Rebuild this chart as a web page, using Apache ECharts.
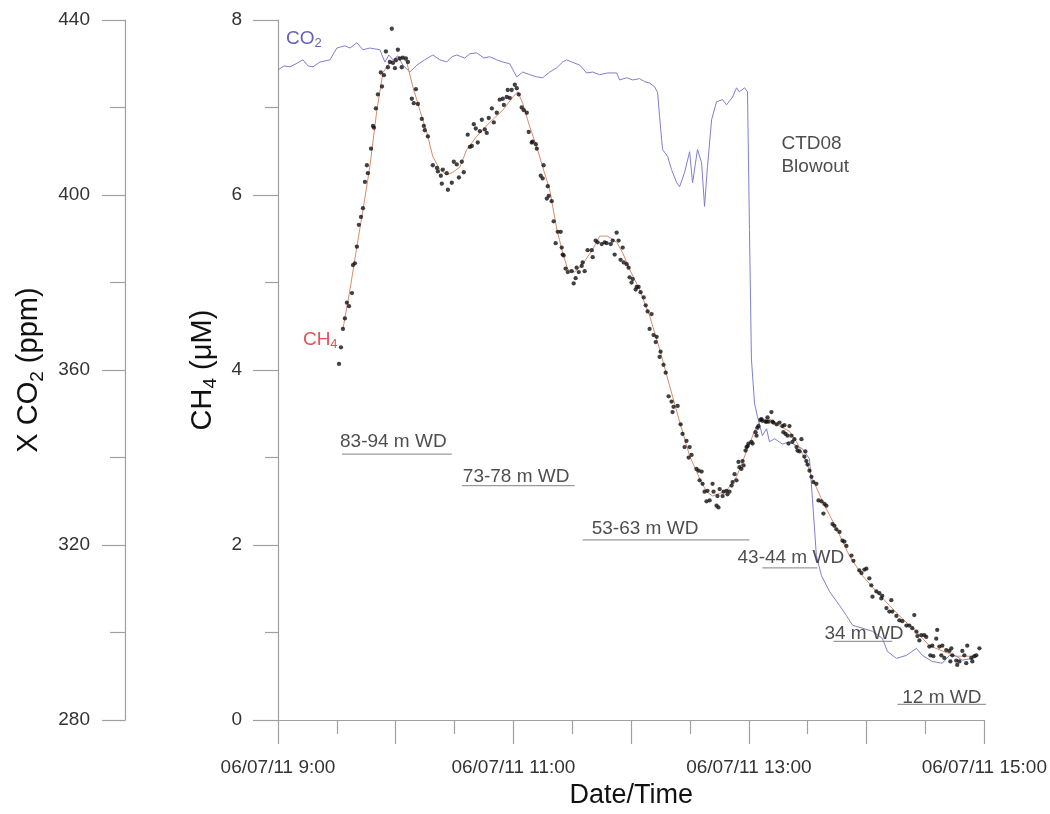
<!DOCTYPE html>
<html>
<head>
<meta charset="utf-8">
<script src="https://cdn.jsdelivr.net/npm/echarts@6/dist/echarts.min.js"></script>
<style>html,body{margin:0;padding:0;background:#fff;}#c{width:1050px;height:814px;}</style>
</head>
<body>
<div id="c"></div>
<script>
// time in minutes after 06/07/11 09:00
const co2Time = [0,3.1,6.1,9.2,12.7,15.3,17.8,21.4,26.5,30.0,
34.1,36.7,40.2,43.3,46.8,51.9,54.5,56.5,58.6,61.1,
63.6,67.2,70.8,74.8,78.9,82.5,86.0,88.6,91.1,95.2,
97.8,101.3,104.9,107.9,111.5,114.6,118.1,121.7,124.7,128.3,
131.9,134.9,138.5,142.1,145.1,147.1,149.7,153.8,157.3,160.4,
163.9,168.0,172.6,174.1,177.7,180.8,184.3,186.9,189.4,192.0,
193.5,194.5,196.0,198.6,200.6,203.2,204.7,207.2,209.8,211.3,
213.8,215.9,217.4,218.9,221.0,223.5,226.6,228.6,231.7,233.7,
235.2,237.8,239.3,240.3,241.3,242.9,244.4,246.9,249.0,250.5,
253.1,257.1,260.7,264.3,267.3,270.9,272.4,274.4,277.0,281.1,
286.2,289.7,292.8,297.9,303.0,308.0,310.6,315.2,320.3,325.4,
328.4,333.5,338.6,342.2,345.7,348.8,353.9,356.4];
const co2Value = [428.6,429.5,429.3,430.0,430.9,429.5,429.3,430.4,430.9,433.6,
434.1,433.6,434.8,433.2,433.6,433.2,430.4,432.0,430.9,431.8,
429.7,428.1,429.7,430.9,432.0,430.9,430.4,431.6,432.0,431.3,
432.3,432.5,431.3,431.6,430.9,430.4,430.0,427.0,428.1,427.5,
427.0,426.8,428.1,429.1,430.4,430.9,430.4,429.7,427.9,428.1,
427.5,427.9,427.9,426.3,426.8,426.3,426.6,425.9,425.6,424.7,
423.4,417.9,410.4,408.8,405.8,402.8,401.9,405.1,409.9,402.8,
410.4,407.4,397.4,406.5,417.2,421.3,421.8,420.6,422.4,424.5,
423.6,424.5,423.6,392.1,362.5,352.3,349.3,345.0,346.6,343.6,
344.3,343.1,343.6,342.7,342.0,339.7,330.6,317.6,313.0,309.4,
306.2,303.9,301.7,301.0,300.3,298.7,295.7,294.1,294.8,296.4,
294.8,293.4,293.0,294.8,294.6,293.7,294.1,294.6];

const ch4LineTime = [33.1,36.7,40.2,43.3,46.8,50.4,53.5,57.0,60.6,63.6,
65.7,68.7,72.3,75.9,78.9,82.5,86.0,89.1,92.7,96.2,
101.3,107.9,114.6,119.7,122.2,124.7,128.3,131.9,134.9,138.5,
142.1,145.1,147.7,151.2,155.3,160.4,163.9,168.0,172.6,175.7,
179.2,184.3,189.4,194.5,199.6,204.7,209.8,214.9,218.4,221.5,
225.1,228.6,233.7,238.8,243.9,246.9,250.5,255.6,260.7,264.3,
269.3,272.4,277.5,284.6,291.2,297.9,305.0,311.6,318.2,325.4,
332.0,338.6,345.7,352.3,356.4];
const ch4LineValue = [4.47,4.92,5.41,5.83,6.32,6.97,7.40,7.51,7.57,7.57,
7.51,7.24,6.97,6.71,6.44,6.29,6.23,6.26,6.32,6.52,
6.67,6.83,6.97,7.12,7.18,7.05,6.78,6.55,6.32,6.06,
5.61,5.34,5.15,5.12,5.21,5.38,5.53,5.53,5.46,5.34,
5.15,4.92,4.62,4.24,3.82,3.41,3.02,2.76,2.61,2.56,
2.59,2.62,2.78,3.07,3.36,3.44,3.44,3.36,3.30,3.18,
2.95,2.76,2.50,2.19,1.88,1.65,1.47,1.31,1.16,1.01,
0.85,0.79,0.73,0.73,0.74];

// individual CH4 measurements [minutes after 09:00, µM]
const ch4Samples = [
[31.1,4.07],[32.1,4.26],[33.1,4.47],[34.1,4.59],[35.1,4.77],[36.2,4.73],[37.7,4.88],[38.2,5.20],[39.2,5.22],[40.2,5.41],
[41.2,5.66],[42.3,5.75],[43.3,5.85],[44.3,6.15],[45.3,6.34],[45.8,6.25],[47.4,6.53],[48.4,6.79],[48.9,6.77],[49.9,6.99],
[50.9,7.15],[52.4,7.40],[53.0,7.24],[54.0,7.37],[55.0,7.64],[56.0,7.46],[57.0,7.52],[58.0,7.90],[58.6,7.51],[59.6,7.45],
[60.1,7.54],[61.1,7.66],[62.1,7.56],[63.1,7.46],[63.6,7.57],[65.2,7.56],[66.2,7.52],[68.2,7.10],[69.2,7.05],[70.3,7.21],
[71.3,7.04],[73.3,6.87],[74.3,6.79],[74.8,6.74],[76.4,6.67],[78.9,6.34],[81.0,6.31],[81.5,6.27],[83.0,6.22],[83.5,6.13],
[84.0,6.29],[86.0,6.25],[86.6,6.06],[88.6,6.14],[89.6,6.38],[91.1,6.35],[92.2,6.20],[93.7,6.38],[94.7,6.26],[96.7,6.69],
[97.8,6.55],[98.8,6.56],[99.8,6.81],[100.8,6.76],[101.8,6.60],[102.9,6.73],[103.9,6.86],[105.4,6.75],[106.4,6.71],[107.4,6.88],
[109.0,6.99],[110.0,6.83],[111.5,6.94],[113.0,7.09],[114.6,7.10],[115.1,7.03],[116.6,7.12],[117.1,7.20],[118.1,7.11],[119.1,7.20],
[120.7,7.26],[121.7,7.22],[122.7,7.15],[124.2,7.00],[125.3,6.97],[126.8,6.94],[127.8,6.72],[129.3,6.60],[129.8,6.61],[131.4,6.58],
[131.9,6.53],[133.9,6.22],[134.9,6.19],[135.4,6.34],[137.0,5.96],[137.5,6.10],[138.0,5.99],[139.5,5.93],[140.5,5.70],[141.5,5.45],
[142.6,5.58],[144.1,5.58],[144.6,5.40],[145.1,5.32],[145.6,5.31],[146.6,5.16],[147.7,5.12],[149.7,5.13],[150.7,4.99],[151.7,5.05],
[152.2,5.17],[153.3,5.12],[154.8,5.19],[155.3,5.23],[156.3,5.13],[157.8,5.37],[159.9,5.37],[160.4,5.29],[161.9,5.48],[162.9,5.46],
[165.0,5.44],[166.5,5.46],[167.5,5.45],[169.6,5.44],[170.6,5.48],[171.6,5.32],[172.6,5.57],[173.6,5.48],[174.6,5.26],[175.7,5.40],
[176.2,5.23],[177.7,5.21],[178.7,5.17],[179.2,5.06],[180.2,5.00],[180.8,5.04],[182.3,4.92],[182.8,4.95],[183.8,4.95],[184.8,4.89],
[186.4,4.83],[187.4,4.74],[188.4,4.67],[189.4,4.47],[190.4,4.64],[191.4,4.40],[192.5,4.32],[193.0,4.38],[194.5,4.15],[195.0,4.21],
[196.5,4.06],[197.6,3.97],[199.1,3.70],[200.6,3.64],[201.1,3.52],[201.6,3.58],[203.7,3.59],[205.2,3.38],[206.2,3.27],[207.2,3.12],
[208.2,3.19],[209.3,3.00],[209.8,3.12],[210.8,3.03],[213.3,2.87],[214.4,2.85],[214.9,2.74],[215.9,2.84],[216.4,2.70],[217.4,2.61],
[218.4,2.50],[218.9,2.62],[220.0,2.51],[221.5,2.70],[222.0,2.61],[223.5,2.45],[224.0,2.56],[224.5,2.43],[225.1,2.64],[226.6,2.56],
[227.1,2.61],[228.6,2.62],[229.1,2.58],[230.1,2.61],[231.2,2.68],[231.7,2.72],[232.7,2.81],[233.7,2.74],[234.7,2.95],[235.2,2.89],
[236.2,2.87],[236.8,2.96],[237.3,2.91],[238.3,3.08],[238.8,3.12],[239.3,3.13],[239.8,3.16],[241.3,3.18],[241.9,3.16],[243.4,3.29],
[243.9,3.25],[244.4,3.34],[244.9,3.36],[245.9,3.43],[246.4,3.44],[246.9,3.42],[248.5,3.41],[249.0,3.41],[249.5,3.46],[250.0,3.41],
[251.5,3.52],[252.0,3.41],[252.5,3.40],[254.1,3.38],[255.6,3.40],[257.1,3.36],[257.6,3.29],[258.1,3.37],[258.7,3.27],[259.7,3.25],
[260.2,3.16],[260.7,3.36],[261.7,3.25],[262.2,3.18],[263.2,3.21],[264.3,3.12],[264.8,3.08],[265.8,3.07],[266.8,3.21],[268.3,3.01],
[268.8,3.07],[269.3,2.96],[269.9,2.92],[270.9,2.85],[271.9,2.78],[272.9,2.72],[274.4,2.70],[275.5,2.51],[277.0,2.50],[278.0,2.36],
[278.5,2.47],[279.5,2.45],[282.6,2.24],[283.6,2.22],[284.6,2.18],[286.2,2.15],[287.7,2.05],[288.7,2.04],[289.7,1.99],[292.3,1.88],
[293.3,1.82],[296.3,1.71],[297.4,1.68],[298.9,1.72],[299.9,1.73],[301.4,1.62],[302.4,1.54],[303.0,1.41],[305.0,1.47],[306.5,1.45],
[307.5,1.39],[308.0,1.42],[310.1,1.28],[311.6,1.24],[312.6,1.37],[313.1,1.24],[315.2,1.19],[316.7,1.14],[318.2,1.13],[320.3,1.08],
[321.8,1.08],[323.3,1.05],[324.3,1.20],[325.4,1.01],[325.9,0.96],[326.9,0.91],[327.9,0.97],[329.4,0.97],[330.4,0.95],[332.0,0.84],
[332.5,0.74],[333.5,0.85],[334.0,0.73],[335.5,0.93],[336.0,1.03],[337.1,0.84],[338.1,0.74],[338.6,0.85],[339.6,0.71],[340.6,0.80],
[342.2,0.79],[342.7,0.67],[343.2,0.82],[343.7,0.74],[345.7,0.68],[346.2,0.63],[347.3,0.67],[348.8,0.79],[349.8,0.74],[350.8,0.65],
[351.3,0.85],[353.4,0.71],[353.9,0.67],[354.9,0.73],[355.9,0.74],[357.5,0.82]
];

// water-depth sampling periods
const wdLabels = ['83-94 m WD','73-78 m WD','53-63 m WD','43-44 m WD','34 m WD','12 m WD'];
const wdStart = [32.6, 93.7, 155.3, 246.9, 283.1, 315.7];
const wdEnd = [88.6, 151.2, 240.3, 274.9, 313.1, 361.0];
const wdLevel = [3.04, 2.68, 2.06, 1.74, 0.90, 0.18];
// label anchors (time, µM) for the depth labels
const wdLabelTime = [31.6, 94.2, 159.9, 234.2, 278.5, 318.2];
const wdLabelLevel = [3.18, 2.78, 2.19, 1.85, 0.99, 0.25];

const xTickLabels = {0:'06/07/11 9:00', 120:'06/07/11 11:00', 240:'06/07/11 13:00', 360:'06/07/11 15:00'};

const FONT = 'Liberation Sans, Arial, sans-serif';
const AX = '#a0a0a0';
const subRich = {
  s: {fontSize: 13, lineHeight: 12, verticalAlign: 'bottom', fontFamily: FONT}
};

const chart = echarts.init(document.getElementById('c'), null, {renderer: 'canvas'});

const series = [];
series.push({
  type: 'line', yAxisIndex: 1, showSymbol: false, symbol: 'none',
  data: co2Time.map((t, i) => [t, co2Value[i]]),
  lineStyle: {color: '#7f7fd0', width: 1}, z: 2, animation: false
});
wdLabels.forEach((lab, i) => {
  series.push({
    type: 'line', yAxisIndex: 0, symbol: 'none', clip: false,
    data: [[wdStart[i], wdLevel[i]], [wdEnd[i], wdLevel[i]]],
    lineStyle: {color: '#9a9a9a', width: 1.3}, z: 1, animation: false
  });
});
series.push({
  type: 'line', yAxisIndex: 0, symbol: 'none',
  data: ch4LineTime.map((t, i) => [t, ch4LineValue[i]]),
  lineStyle: {color: '#d98c6c', width: 1}, z: 3, animation: false
});
series.push({
  type: 'scatter', yAxisIndex: 0, symbolSize: 4.3,
  data: ch4Samples,
  itemStyle: {color: '#111'}, z: 4, animation: false
});
// depth labels
series.push({
  type: 'scatter', yAxisIndex: 0, symbolSize: 0, silent: true, clip: false,
  data: wdLabels.map((lab, i) => ({value: [wdLabelTime[i], wdLabelLevel[i]], name: lab})),
  label: {show: true, position: 'right', distance: 0, formatter: p => p.name,
          fontFamily: FONT, fontSize: 19, color: '#222'},
  z: 5, animation: false
});
// series annotations
series.push({
  type: 'scatter', yAxisIndex: 0, symbolSize: 0, silent: true, clip: false,
  data: [
    {value: [4.1, 7.79], label: {formatter: 'CO{s|2}', color: '#3a3aa8',
      rich: {s: Object.assign({}, subRich.s, {color: '#3a3aa8'})}}},
    {value: [12.7, 4.35], label: {formatter: 'CH{s|4}', color: '#d42a2a',
      rich: {s: Object.assign({}, subRich.s, {color: '#d42a2a'})}}},
    {value: [256.6, 6.46], label: {formatter: 'CTD08\nBlowout', color: '#222', lineHeight: 23}}
  ],
  label: {show: true, position: 'right', distance: 0, fontFamily: FONT, fontSize: 19, lineHeight: 24},
  z: 5, animation: false
});

chart.setOption({
  backgroundColor: '#fff',
  animation: false,
  grid: {left: 278, right: 65, top: 20, bottom: 92, containLabel: false},
  xAxis: {
    type: 'value', min: 0, max: 360, interval: 60,
    name: 'Date/Time', nameLocation: 'middle', nameGap: 52,
    nameTextStyle: {fontFamily: FONT, fontSize: 27, color: '#111'},
    axisLine: {show: true, lineStyle: {color: AX, width: 1.2}},
    axisTick: {show: true, length: 24, inside: false, lineStyle: {color: AX, width: 1.2}},
    minorTick: {show: true, splitNumber: 2, length: 14, lineStyle: {color: AX, width: 1.2}},
    splitLine: {show: false},
    axisLabel: {margin: 38, fontFamily: FONT, fontSize: 19, color: '#333',
      formatter: v => xTickLabels[v] || ''}
  },
  yAxis: [
    {
      type: 'value', position: 'left', min: 0, max: 8, interval: 2,
      name: 'CH{s|4} (μM)', nameLocation: 'middle', nameGap: 57,
      nameTextStyle: {fontFamily: FONT, fontSize: 29, lineHeight: 36, color: '#111',
        rich: {s: {fontSize: 19, lineHeight: 14, verticalAlign: 'bottom', fontFamily: FONT, color: '#111'}}},
      axisLine: {show: true, lineStyle: {color: AX, width: 1.2}},
      axisTick: {show: true, length: 25, inside: false, lineStyle: {color: AX, width: 1.2}},
      minorTick: {show: true, splitNumber: 2, length: 13, lineStyle: {color: AX, width: 1.2}},
      splitLine: {show: false},
      axisLabel: {margin: 36, fontFamily: FONT, fontSize: 19, color: '#333'}
    },
    {
      type: 'value', position: 'left', offset: 153, min: 280, max: 440, interval: 40,
      name: 'X CO{s|2} (ppm)', nameLocation: 'middle', nameGap: 77,
      nameTextStyle: {fontFamily: FONT, fontSize: 29, lineHeight: 36, color: '#111',
        rich: {s: {fontSize: 19, lineHeight: 14, verticalAlign: 'bottom', fontFamily: FONT, color: '#111'}}},
      axisLine: {show: true, lineStyle: {color: AX, width: 1.2}},
      axisTick: {show: true, length: 23, inside: false, lineStyle: {color: AX, width: 1.2}},
      minorTick: {show: true, splitNumber: 2, length: 15, lineStyle: {color: AX, width: 1.2}},
      splitLine: {show: false},
      axisLabel: {margin: 35, fontFamily: FONT, fontSize: 19, color: '#333'}
    }
  ],
  series: series
});
</script>
</body>
</html>
